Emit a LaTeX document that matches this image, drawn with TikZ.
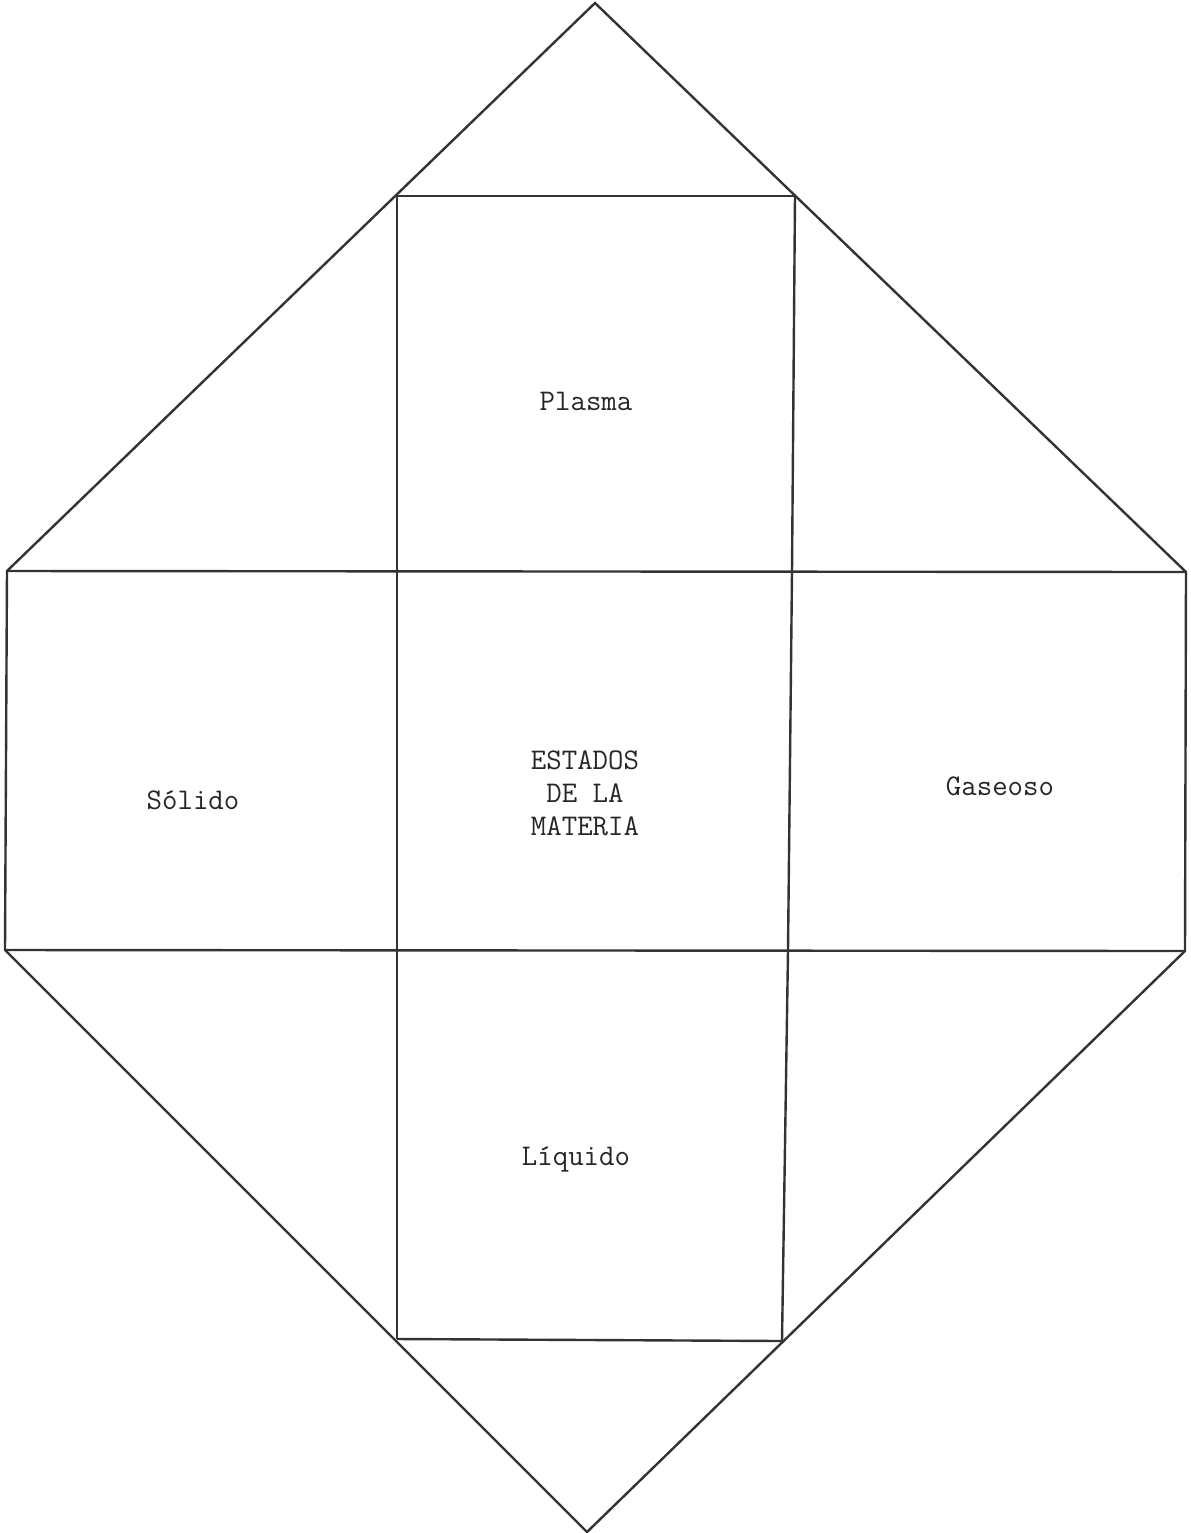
\documentclass[tikz,border=0pt]{standalone}
\begin{document}
\begin{tikzpicture}[x=0.5pt,y=-0.5pt,
  edge/.style={line width=1.2pt,draw=black!80,line join=miter},
  lbl/.style={font=\ttfamily\fontsize{15}{16.5}\selectfont,text=black!85,align=center,inner sep=0pt}]
\useasboundingbox (0,0) rectangle (1190,1533);
% vertices
\coordinate (top) at (595,3);
\coordinate (bot) at (587,1532);
\coordinate (tl) at (397,196);
\coordinate (tr) at (795,196);
\coordinate (ml) at (7,571);
\coordinate (mr) at (1186,572);
\coordinate (cl1) at (397,572);
\coordinate (cr1) at (792,572);
\coordinate (bl) at (5,950);
\coordinate (br) at (1185,951);
\coordinate (cl2) at (397,950);
\coordinate (cr2) at (788,951);
\coordinate (dl) at (397,1339);
\coordinate (dr) at (782,1341);
% outline
\draw[edge] (top) -- (ml) -- (bl) -- (bot) -- (br) -- (mr) -- cycle;
% top rectangle top edge and bottom rectangle bottom edge
\draw[edge] (tl) -- (tr);
\draw[edge] (dl) -- (dr);
% verticals
\draw[edge] (tl) -- (dl);
\draw[edge] (tr) -- (cr1) -- (cr2) -- (dr);
% horizontals
\draw[edge] (ml) -- (mr);
\draw[edge] (bl) -- (br);
% labels
\node[lbl] (plasma) at (586,401) {Plasma};
\node[lbl] (solido) at (193,800) {S\'olido};
\node[lbl] (centro) at (585,793) {ESTADOS\\DE LA\\MATERIA};
\node[lbl] (gaseoso) at (1000,786) {Gaseoso};
\node[lbl] (liquido) at (576,1159) {L\'iquido};
\end{tikzpicture}
\end{document}
